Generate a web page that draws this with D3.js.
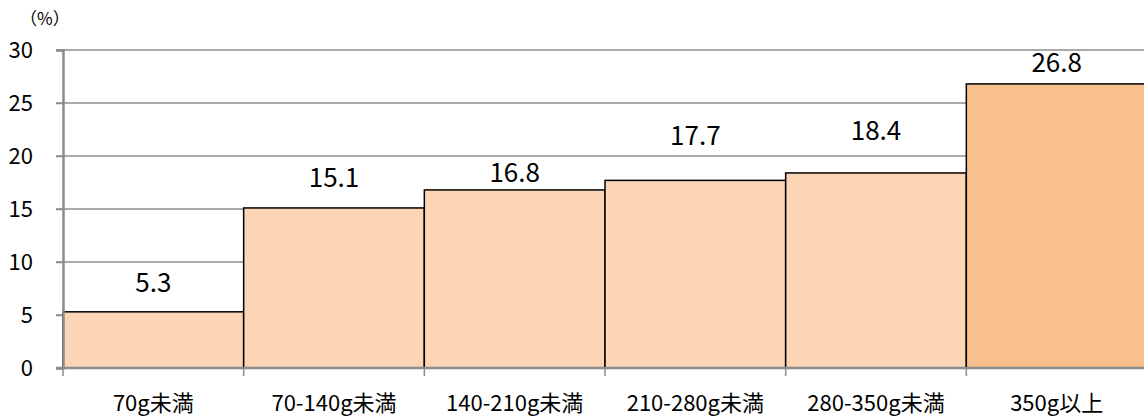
<!DOCTYPE html>
<html>
<head>
<meta charset="utf-8">
<script src="https://cdn.jsdelivr.net/npm/d3@7"></script>
<style>
  html, body { margin: 0; padding: 0; background: #fff; }
  svg { display: block; }
  text { font-family: "Noto Sans CJK JP", "Noto Sans", sans-serif; fill: #000; }
</style>
</head>
<body>
<svg id="chart" width="1144" height="419"></svg>
<script>
// Share by daily intake group (%)
const categories = ["70g未満", "70-140g未満", "140-210g未満", "210-280g未満", "280-350g未満", "350g以上"];
const values = [5.3, 15.1, 16.8, 17.7, 18.4, 26.8];
const yTicks = [0, 5, 10, 15, 20, 25, 30];
const barColors = ["#FBD5B5", "#FBD5B5", "#FBD5B5", "#FBD5B5", "#FBD5B5", "#F9C08F"];

const svg = d3.select("#chart");
const plotLeft = 63, plotRight = 1147, plotTop = 50, plotBottom = 368;

// hand-tuned distance of each value label above its bar (px)
const labelGap = [20, 21, 8, 35, 33, 12];

const x = d3.scaleBand().domain(categories).range([plotLeft, plotRight]).padding(0);
const y = d3.scaleLinear().domain([0, 30]).range([plotBottom, plotTop]);

// horizontal gridlines
svg.append("g")
  .selectAll("line")
  .data(yTicks.filter(d => d > 0))
  .join("line")
  .attr("x1", plotLeft - 7).attr("x2", 1144)
  .attr("y1", d => y(d)).attr("y2", d => y(d))
  .attr("stroke", "#8c8c8c").attr("stroke-width", 1.5);

// bars
svg.append("g")
  .selectAll("rect")
  .data(values)
  .join("rect")
  .attr("x", (d, i) => x(categories[i]))
  .attr("y", d => y(d))
  .attr("width", x.bandwidth())
  .attr("height", d => plotBottom - y(d))
  .attr("fill", (d, i) => barColors[i])
  .attr("stroke", "#000").attr("stroke-width", 1.5);

// value labels
svg.append("g")
  .selectAll("text")
  .data(values)
  .join("text")
  .attr("x", (d, i) => x(categories[i]) + x.bandwidth() / 2)
  .attr("y", (d, i) => y(d) - labelGap[i])
  .attr("text-anchor", "middle")
  .attr("font-size", 26)
  .text(d => d.toFixed(1));

// y axis
const yAxis = svg.append("g")
  .attr("transform", `translate(${plotLeft},0)`)
  .call(d3.axisLeft(y).tickValues(yTicks).tickSize(7).tickPadding(23));
yAxis.select(".domain").attr("stroke", "#8c8c8c").attr("stroke-width", 2.5);
yAxis.selectAll(".tick line").attr("stroke", "#8c8c8c").attr("stroke-width", 1.5);
yAxis.selectAll(".tick text")
  .attr("font-size", 22)
  .attr("font-family", "'Noto Sans CJK JP', sans-serif")
  .attr("fill", "#000");

// x axis with ticks at category boundaries
const xg = svg.append("g");
xg.append("line")
  .attr("x1", plotLeft - 7).attr("x2", 1144)
  .attr("y1", plotBottom).attr("y2", plotBottom)
  .attr("stroke", "#8c8c8c").attr("stroke-width", 2.5);
const bounds = categories.map(c => x(c));
xg.selectAll("line.tk")
  .data(bounds)
  .join("line")
  .attr("class", "tk")
  .attr("x1", d => d).attr("x2", d => d)
  .attr("y1", plotBottom).attr("y2", plotBottom + 8)
  .attr("stroke", "#8c8c8c").attr("stroke-width", 1.5);
xg.selectAll("text")
  .data(categories)
  .join("text")
  .attr("x", d => x(d) + x.bandwidth() / 2)
  .attr("y", 411)
  .attr("text-anchor", "middle")
  .attr("font-size", 22)
  .text(d => d);

// unit label
svg.append("text")
  .attr("x", 20).attr("y", 25)
  .attr("font-size", 17)
  .text("（%）");
</script>
</body>
</html>
